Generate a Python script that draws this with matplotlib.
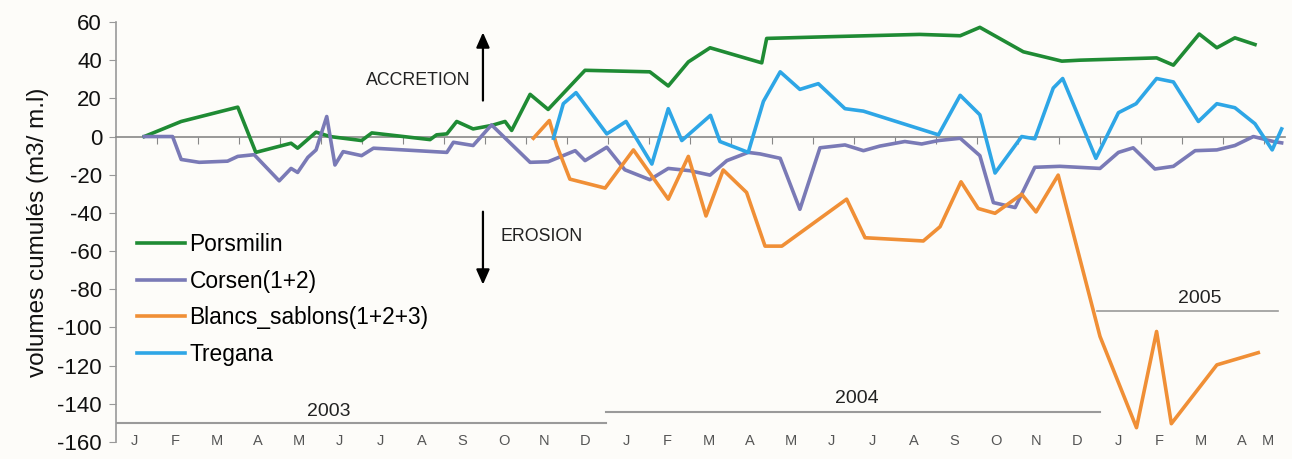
import numpy as np
import matplotlib
matplotlib.use("Agg")
import matplotlib.pyplot as plt

plt.rcParams["font.family"] = ["Liberation Sans", "DejaVu Sans"]
plt.rcParams["axes.unicode_minus"] = False

# x in months from start of Jan 2003 (0 = 1 Jan 2003)
pors_x = [0.69, 1.59, 2.97, 3.41, 4.27, 4.43, 4.88, 5.22, 5.99, 6.24, 7.66, 7.82, 8.07,
          8.31, 8.71, 9.16, 9.49, 9.65, 10.10, 10.54, 11.44, 13.02, 13.47, 13.96, 14.49,
          15.75, 15.87, 17.4, 19.6, 20.59, 21.07, 22.13, 23.07, 23.51, 25.38, 25.79,
          26.42, 26.85, 27.29, 27.78]
pors_y = [0, 7.9, 15.4, -8.3, -3.5, -6.1, 2.3, 0.0, -2.1, 1.9, -1.6, 0.9, 1.4,
          7.9, 4.0, 5.8, 7.9, 3.2, 22.1, 14.2, 34.7, 33.9, 26.5, 39.1, 46.5,
          38.6, 51.4, 52.3, 53.5, 52.8, 57.2, 44.4, 39.5, 40.0, 41.2, 37.4,
          53.7, 46.5, 51.7, 48.2]

cors_x = [0.69, 1.38, 1.59, 2.03, 2.72, 2.97, 3.37, 3.98, 4.27, 4.43, 4.68, 4.88, 5.14,
          5.34, 5.54, 5.99, 6.28, 8.07, 8.23, 8.71, 9.16, 10.10, 10.54, 11.20, 11.44,
          11.97, 12.41, 13.02, 13.47, 14.00, 14.49, 14.90, 15.42, 15.71, 16.20, 16.68,
          17.17, 17.78, 18.23, 18.63, 19.24, 19.65, 20.06, 20.59, 21.07, 21.40, 21.93,
          22.41, 23.02, 24.00, 24.45, 24.81, 25.34, 25.79, 26.32, 26.85, 27.29, 27.74,
          28.23, 28.43]
cors_y = [0, 0, -12, -13.5, -12.9, -10.4, -9.5, -23.2, -16.7, -18.8, -10.9, -7.0, 10.5,
          -14.9, -7.9, -10, -6.1, -8.3, -3, -4.7, 6.1, -13.5, -13.2, -7.4, -12.6,
          -5.6, -17.4, -22.6, -16.7, -17.9, -20.2, -12.6, -8.3, -9.1, -11.4, -38.1,
          -5.9, -4.4, -7.4, -5.0, -2.6, -3.9, -2.1, -0.9, -10, -34.6, -37.2,
          -16.1, -15.6, -16.7, -8.3, -5.9, -17, -15.6, -7.4, -7, -4.7, 0,
          -2.6, -3.3]

blanc_x = [10.18, 10.57, 10.75, 11.07, 11.93, 12.62, 13.47, 13.96, 14.39, 14.81, 15.38,
           15.83, 16.24, 17.82, 18.27, 19.69, 20.10, 20.61, 21.03, 21.44, 22.09, 22.44,
           22.98, 24.00, 24.89, 25.38, 25.74, 26.85, 27.86]
blanc_y = [-0.9, 8.4, -4.7, -22.3, -27, -7, -32.8, -10.4, -41.6, -17.5, -29.3,
           -57.4, -57.4, -32.8, -53, -54.7, -47.2, -23.7, -37.7, -40.2, -30.2, -39.5,
           -20.2, -104.7, -152.5, -102.1, -150.4, -119.6, -113.2]

treg_x = [10.67, 10.91, 11.22, 11.97, 12.44, 13.07, 13.47, 13.80, 14.50, 14.73, 15.42,
          15.79, 16.20, 16.68, 17.13, 17.78, 18.23, 20.06, 20.59, 21.07, 21.44, 22.09,
          22.41, 22.86, 23.09, 23.90, 24.45, 24.88, 25.38, 25.79, 26.40, 26.85, 27.29,
          27.78, 28.20, 28.43]
treg_y = [-0.9, 17.2, 23, 1.4, 7.9, -14.4, 14.6, -2.1, 11.1, -2.6, -8.3,
          18.4, 33.9, 24.7, 27.7, 14.6, 13.3, 0.9, 21.6, 11.4, -19.1, 0,
          -1.2, 25.4, 30.4, -11.4, 12.5, 17.2, 30.4, 28.6, 7.9, 17.2, 15.1,
          6.7, -7, 4]

months = ["J", "F", "M", "A", "M", "J", "J", "A", "S", "O", "N", "D",
          "J", "F", "M", "A", "M", "J", "J", "A", "S", "O", "N", "D",
          "J", "F", "M", "A", "M"]
years = ["2003", "2004", "2005"]

BG = "#fdfcf9"
fig = plt.figure(figsize=(12.92, 4.59), dpi=100, facecolor=BG)
ax = fig.add_axes([116 / 1292, 1 - 442 / 459, 1168.5 / 1292, 420 / 459])
ax.set_facecolor(BG)

lw = 2.6
ax.plot(pors_x, pors_y, color="#1f8b34", lw=lw, label="Porsmilin", zorder=3)
ax.plot(cors_x, cors_y, color="#7a7ab6", lw=lw, label="Corsen(1+2)", zorder=3)
ax.plot(blanc_x, blanc_y, color="#f08f36", lw=lw, label="Blancs_sablons(1+2+3)", zorder=3)
ax.plot(treg_x, treg_y, color="#2ea6e6", lw=lw, label="Tregana", zorder=3)

ax.set_xlim(0, 28.5)
ax.set_ylim(-160, 60)
ax.set_yticks(np.arange(-160, 61, 20))
ax.tick_params(axis="y", labelsize=16, length=5, color="#999999", labelcolor="#111111", pad=5)
ax.set_ylabel("volumes cumulés (m3/ m.l)", fontsize=17.5, color="#111111", labelpad=6)

for s in ["top", "right"]:
    ax.spines[s].set_visible(False)
ax.spines["left"].set_color("#999999")
ax.spines["left"].set_linewidth(1.2)
ax.spines["bottom"].set_position(("data", 0))
ax.spines["bottom"].set_color("#888888")
ax.spines["bottom"].set_linewidth(1.2)
ax.set_xticks(np.arange(1, 29))
ax.tick_params(axis="x", length=5, color="#888888", labelbottom=False)

# month labels along the bottom
month_x = list(np.arange(28) + 0.45) + [28.1]
for mx, m in zip(month_x, months):
    ax.text(mx, -159.5, m, ha="center", va="center", fontsize=10.5, color="#555555")

# year brackets
grey = "#9a9a9a"
ax.plot([0, 11.95], [-150, -150], color=grey, lw=1.5, zorder=2)
ax.text(5.2, -144, years[0], ha="center", va="center", fontsize=14, color="#222222")
ax.plot([11.95, 24.0], [-144.2, -144.2], color=grey, lw=1.5, zorder=2)
ax.text(18.07, -137, years[1], ha="center", va="center", fontsize=14, color="#222222")
ax.plot([23.93, 28.35], [-91.6, -91.6], color=grey, lw=1.2, zorder=2)
ax.text(26.44, -85, years[2], ha="center", va="center", fontsize=14, color="#222222")

# accretion / erosion arrows
ax.text(7.37, 29.5, "ACCRETION", ha="center", va="center", fontsize=12.8, color="#222222")
ax.annotate("", xy=(8.95, 56), xytext=(8.95, 17.4),
            arrowprops=dict(arrowstyle="-|>,head_length=0.9,head_width=0.4", color="black", lw=1.6))
ax.text(9.37, -52.6, "EROSION", ha="left", va="center", fontsize=12.8, color="#222222")
ax.annotate("", xy=(8.95, -79), xytext=(8.95, -37.9),
            arrowprops=dict(arrowstyle="-|>,head_length=0.9,head_width=0.4", color="black", lw=1.6))

ax.legend(loc="upper left", bbox_to_anchor=(0.018, 0.498), frameon=False, fontsize=16.4,
          handlelength=2.1, handletextpad=0.2, labelspacing=0.6, borderpad=0, borderaxespad=0)

plt.savefig("out.png", dpi=100, facecolor=BG)
